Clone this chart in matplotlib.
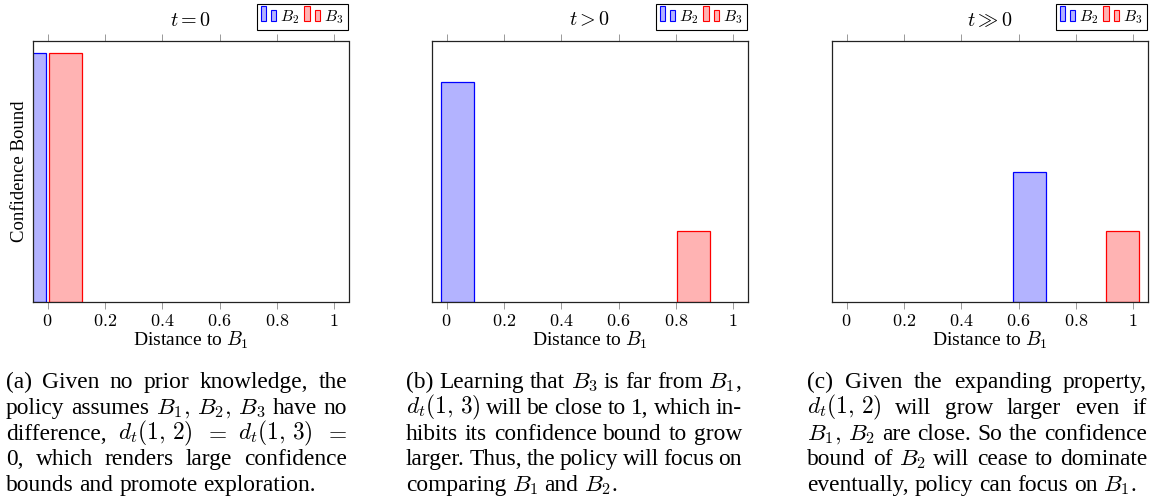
import matplotlib
matplotlib.use("Agg")
import matplotlib.pyplot as plt
from matplotlib.patches import Rectangle
from matplotlib.container import BarContainer
from matplotlib.legend_handler import HandlerBase

# Datos
panel_titles = [r"$t=0$", r"$t>0$", r"$t\gg0$"]
series_names = [r"$B_2$", r"$B_3$"]
dist_b2 = [0.0, 0.1, 0.7]
dist_b3 = [0.0, 0.8, 0.9]
bound_b2 = [1.0, 0.885, 0.52]
bound_b3 = [1.0, 0.285, 0.285]
xtick_values = [0, 0.2, 0.4, 0.6, 0.8, 1]
xtick_labels = ["0", "0.2", "0.4", "0.6", "0.8", "1"]

captions = [
    ["(a) Given no prior knowledge, the",
     r"policy assumes $B_1,\,B_2,\,B_3$ have no",
     r"difference, $d_t(1,\,2)$ $=$ $d_t(1,\,3)$ $=$",
     "0, which renders large confidence",
     "bounds and promote exploration."],
    [r"(b) Learning that $B_3$ is far from $B_1$,",
     r"$d_t(1,\,3)$ will be close to 1, which in-",
     "hibits its confidence bound to grow",
     "larger. Thus, the policy will focus on",
     r"comparing $B_1$ and $B_2$."],
    ["(c) Given the expanding property,",
     r"$d_t(1,\,2)$ will grow larger even if",
     r"$B_1,\,B_2$ are close. So the confidence",
     r"bound of $B_2$ will cease to dominate",
     r"eventually, policy can focus on $B_1$."],
]

plt.rcParams["font.family"] = ["Liberation Serif", "DejaVu Serif"]
plt.rcParams["mathtext.fontset"] = "cm"

W, H = 1153, 503
fig = plt.figure(figsize=(W / 100, H / 100), dpi=100)

blue_face, blue_edge = "#b3b3ff", "#0000ff"
red_face, red_edge = "#ffb3b3", "#ff0000"
bar_width = 0.115
shift = 0.062


class TwoBarHandler(HandlerBase):
    # icono de leyenda estilo pgfplots: dos barritas
    def legend_artist(self, legend, orig_handle, fontsize, handlebox):
        p = orig_handle.patches[0]
        x0, y0 = -handlebox.xdescent, -handlebox.ydescent
        w, h = handlebox.width, handlebox.height
        bw = w * 0.36
        r1 = Rectangle((x0, y0), bw, h * 1.3, facecolor=p.get_facecolor(),
                       edgecolor=p.get_edgecolor(), lw=0.8)
        r2 = Rectangle((x0 + w - bw, y0), bw, h * 1.0, facecolor=p.get_facecolor(),
                       edgecolor=p.get_edgecolor(), lw=0.8)
        handlebox.add_artist(r1)
        handlebox.add_artist(r2)
        return r1


ax_lefts = [33.3, 432.3, 832.3]
ax_w, ax_top, ax_bot = 315.2, 40.5, 301.5

for i in range(3):
    ax = fig.add_axes([ax_lefts[i] / W, (H - ax_bot) / H, ax_w / W, (ax_bot - ax_top) / H])
    b2 = ax.bar(dist_b2[i] - shift, bound_b2[i], width=bar_width, color=blue_face,
                edgecolor=blue_edge, linewidth=0.9)
    b3 = ax.bar(dist_b3[i] + shift, bound_b3[i], width=bar_width, color=red_face,
                edgecolor=red_edge, linewidth=0.9)
    ax.set_xlim(-0.05, 1.05)
    ax.set_ylim(0, 1.05)
    ax.set_yticks([])
    ax.set_xticks(xtick_values)
    ax.set_xticklabels(["$" + s + "$" for s in xtick_labels])
    ax.tick_params(axis="x", direction="out", top=True, length=5, width=0.7,
                   color="#999999", labelsize=13, pad=3)
    for s in ax.spines.values():
        s.set_linewidth(0.9)
        s.set_color("#222222")
    ax.set_xlabel(r"Distance to $B_1$", fontsize=14, labelpad=0)
    if i == 0:
        ax.set_ylabel("Confidence Bound", fontsize=13.5, labelpad=3.5)
    ax.text(0.5, 1 + 15 / 261, panel_titles[i], transform=ax.transAxes,
            ha="center", va="baseline", fontsize=14.5)
    leg = ax.legend([b2, b3], series_names, handler_map={BarContainer: TwoBarHandler()},
                    loc="upper right", bbox_to_anchor=(0.997, 1.14), borderaxespad=0,
                    ncol=2, fontsize=11.5, handlelength=1.0, handleheight=0.7,
                    handletextpad=0.25, columnspacing=0.3, borderpad=0.25,
                    fancybox=False, framealpha=1)
    leg.get_frame().set_edgecolor("black")
    leg.get_frame().set_linewidth(0.8)

# Pies de figura justificados
renderer = fig.canvas.get_renderer()
cap_x = [(6, 347), (406, 742), (807, 1147)]
first_base, line_step, cap_size = 388, 25.8, 16.8
space_px = 0.25 * cap_size * 100 / 72

for (x0, x1), lines in zip(cap_x, captions):
    for k, line in enumerate(lines):
        y = 1 - (first_base + k * line_step) / H
        toks = line.split(" ")
        texts = [fig.text(0, y, t, fontsize=cap_size, va="baseline", ha="left") for t in toks]
        widths = [t.get_window_extent(renderer).width for t in texts]
        if k == len(lines) - 1 or len(toks) == 1:
            gap = space_px
        else:
            gap = (x1 - x0 - sum(widths)) / (len(toks) - 1)
        x = x0
        for t, w in zip(texts, widths):
            t.set_x(x / W)
            x += w + gap

fig.savefig("out.png", dpi=100)
